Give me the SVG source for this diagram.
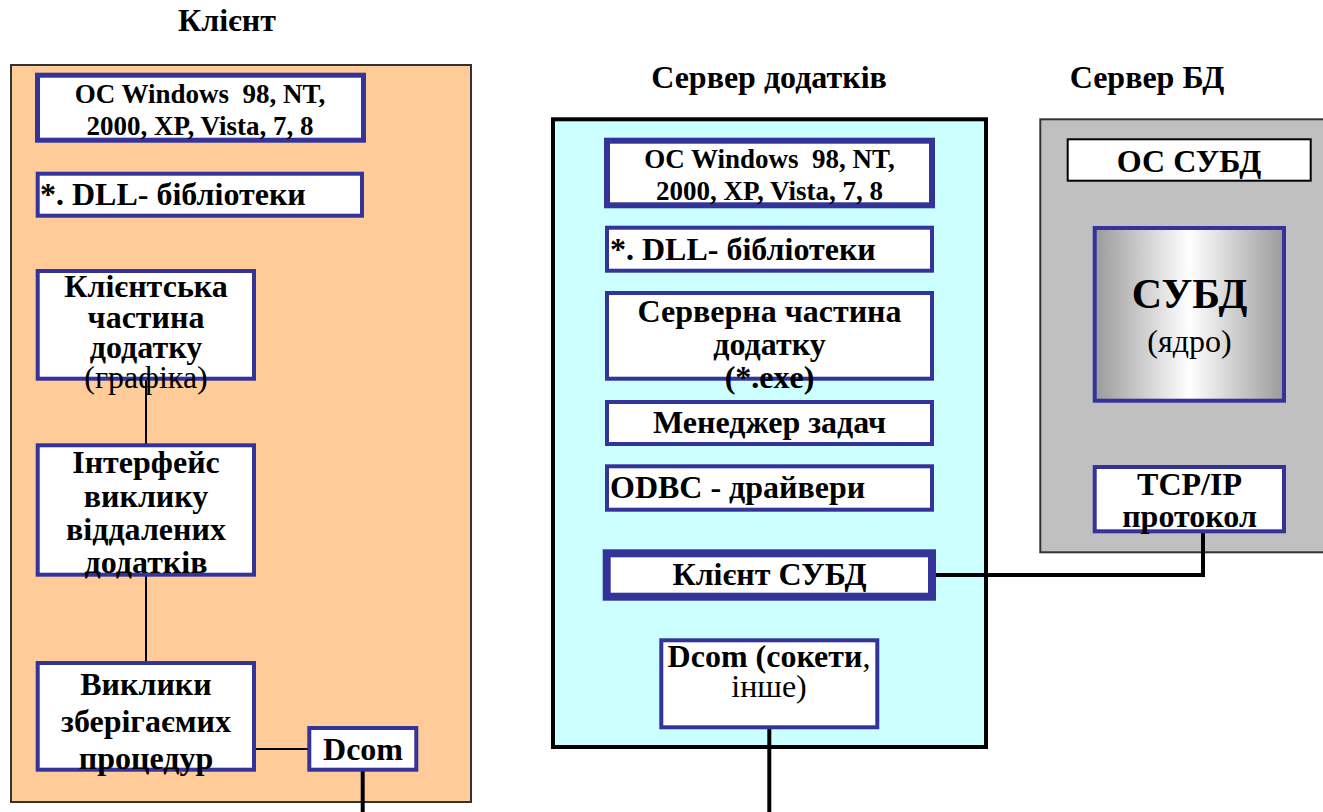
<svg xmlns="http://www.w3.org/2000/svg" width="1323" height="812" viewBox="0 0 1323 812">
<defs>
<linearGradient id="metal" x1="0" y1="0" x2="1" y2="0">
<stop offset="0" stop-color="#9a9a9a"/>
<stop offset="0.5" stop-color="#ffffff"/>
<stop offset="1" stop-color="#9a9a9a"/>
</linearGradient>
</defs>
<style>
text{font-family:"Liberation Serif","Times New Roman",serif;fill:#000}
.b{font-weight:bold}
.c{text-anchor:middle}
.t{font-size:32px;font-weight:bold;text-anchor:middle}
.f32{font-size:32px}
.f27{font-size:27px}
.box{fill:#fff;stroke:#333399;stroke-width:4}
.thin{stroke:#000;stroke-width:2;fill:none}
.thick{stroke:#000;stroke-width:4;fill:none}
</style>
<rect width="1323" height="812" fill="#fff"/>

<g id="client">
<rect x="11" y="65" width="460" height="737" fill="#FFCC99" stroke="#333" stroke-width="2"/>
<text class="t" x="227" y="31">Клієнт</text>
</g>
<g id="appserver">
<rect x="553" y="119.3" width="433" height="627.7" fill="#CCFFFF" stroke="#000" stroke-width="4"/>
<text class="t" x="769" y="88">Сервер додатків</text>
</g>
<g id="dbserver">
<rect x="1040.3" y="119.3" width="300" height="433" fill="#C0C0C0" stroke="#333" stroke-width="2"/>
<text class="t" x="1147" y="88">Сервер БД</text>
</g>

<g id="connectors">
<line class="thin" x1="146" y1="380" x2="146" y2="445"/>
<line class="thin" x1="146" y1="576" x2="146" y2="663"/>
<line class="thin" x1="256" y1="749" x2="309" y2="749"/>
<line class="thick" x1="362.7" y1="771" x2="362.7" y2="812"/>
<path class="thick" d="M936 575 H1203 V533"/>
<line class="thick" x1="769.3" y1="729" x2="769.3" y2="812"/>
</g>

<g id="c-os">
<rect class="box" x="37.5" y="75.2" width="326" height="65" style="stroke-width:5"/>
<text class="b c f27" x="200" y="103" xml:space="preserve">OC Windows  98, NT,</text>
<text class="b c f27" x="200" y="135">2000, XP, Vista, 7, 8</text>
</g>
<g id="c-dll">
<rect class="box" x="37.7" y="173.7" width="324.3" height="42"/>
<text class="b f32" x="40" y="205">*. DLL- бібліотеки</text>
</g>
<g id="c-app">
<rect class="box" x="37.7" y="271" width="216.3" height="107.7"/>
<text class="b c f32" x="146" y="297">Клієнтська</text>
<text class="b c f32" x="146" y="328">частина</text>
<text class="b c f32" x="146" y="358">додатку</text>
<text class="c f32" x="146" y="388">(графіка)</text>
</g>
<g id="c-rpc">
<rect class="box" x="37.7" y="445.3" width="216.3" height="129.4"/>
<text class="b c f32" x="146" y="473">Інтерфейс</text>
<text class="b c f32" x="146" y="507">виклику</text>
<text class="b c f32" x="146" y="540">віддалених</text>
<text class="b c f32" x="146" y="573">додатків</text>
</g>
<g id="c-proc">
<rect class="box" x="37.7" y="663" width="216.3" height="106.7"/>
<text class="b c f32" x="146" y="695">Виклики</text>
<text class="b c f32" x="146" y="732">зберігаємих</text>
<text class="b c f32" x="146" y="769">процедур</text>
</g>
<g id="c-dcom">
<rect class="box" x="309.3" y="728" width="107" height="41.7"/>
<text class="b c f32" x="363" y="760">Dcom</text>
</g>

<g id="s-os">
<rect class="box" x="607" y="140.7" width="325" height="64.6" style="stroke-width:6"/>
<text class="b c f27" x="769.5" y="168" xml:space="preserve">OC Windows  98, NT,</text>
<text class="b c f27" x="769.5" y="200">2000, XP, Vista, 7, 8</text>
</g>
<g id="s-dll">
<rect class="box" x="607" y="227.7" width="325" height="43"/>
<text class="b f32" x="610" y="260">*. DLL- бібліотеки</text>
</g>
<g id="s-app">
<rect class="box" x="607" y="293" width="325" height="85.7"/>
<text class="b c f32" x="769.5" y="322">Серверна частина</text>
<text class="b c f32" x="769.5" y="355">додатку</text>
<text class="b c f32" x="769.5" y="388">(*.exe)</text>
</g>
<g id="s-tm">
<rect class="box" x="607" y="402" width="325" height="42"/>
<text class="b c f32" x="769.5" y="433">Менеджер задач</text>
</g>
<g id="s-odbc">
<rect class="box" x="607" y="466.3" width="325" height="43.4"/>
<text class="b f32" x="610" y="498">ODBC - драйвери</text>
</g>
<g id="s-dbclient">
<rect class="box" x="606.7" y="553.3" width="325.3" height="43.4" style="stroke-width:8"/>
<text class="b c f32" x="769.5" y="585">Клієнт СУБД</text>
</g>
<g id="s-dcom">
<rect class="box" x="661.3" y="640.3" width="216" height="87"/>
<text class="c f32" x="769" y="667"><tspan class="b">Dcom (сокети</tspan>,</text>
<text class="c f32" x="769" y="697">інше)</text>
</g>

<g id="d-os">
<rect x="1067.7" y="139.3" width="243" height="41.4" fill="#fff" stroke="#000" stroke-width="2"/>
<text class="b c f32" x="1189" y="172">ОС СУБД</text>
</g>
<g id="d-core">
<rect class="box" x="1094.7" y="228" width="189.3" height="172.7" style="fill:url(#metal)"/>
<text class="b c" x="1189.5" y="308" style="font-size:42px">СУБД</text>
<text class="c f32" x="1189.5" y="352">(ядро)</text>
</g>
<g id="d-tcp">
<rect class="box" x="1094.7" y="467" width="189.3" height="64.3"/>
<text class="b c f32" x="1189.5" y="495">TCP/IP</text>
<text class="b c f32" x="1189.5" y="527">протокол</text>
</g>
</svg>
